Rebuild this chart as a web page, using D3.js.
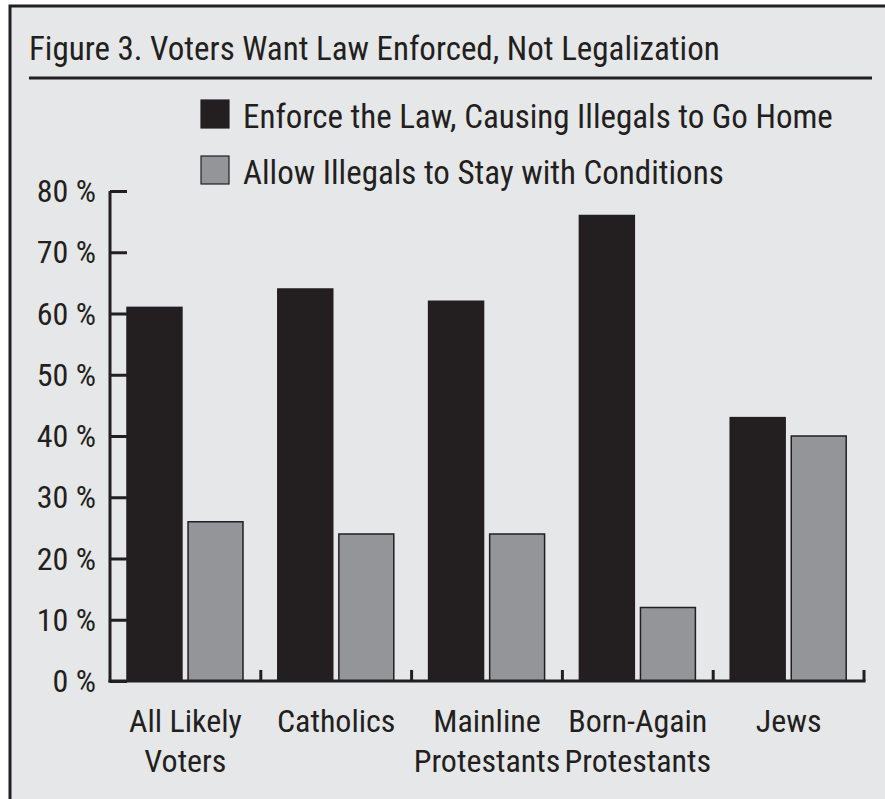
<!DOCTYPE html>
<html>
<head>
<meta charset="utf-8">
<script src="https://cdn.jsdelivr.net/npm/d3@7"></script>
<style>
  body { margin: 0; background: #fff; }
  text { font-family: "Liberation Sans Narrow", "Arial Narrow", "Roboto Condensed", sans-serif; fill: #231f20; }
</style>
</head>
<body>
<svg id="chart"></svg>
<script>
// Figure 3: enforce vs. allow to stay, by group
const groups = ["All Likely Voters", "Catholics", "Mainline Protestants", "Born-Again Protestants", "Jews"];
const groupLines = [["All Likely", "Voters"], ["Catholics"], ["Mainline", "Protestants"], ["Born-Again", "Protestants"], ["Jews"]];
const seriesNames = ["Enforce the Law, Causing Illegals to Go Home", "Allow Illegals to Stay with Conditions"];
const enforceValues = [61, 64, 62, 76, 43];
const allowValues = [26, 24, 24, 12, 40];
const yTicks = [0, 10, 20, 30, 40, 50, 60, 70, 80];

const W = 885, H = 799;
const svg = d3.select("#chart").attr("width", W).attr("height", H);

// panel with frame on top and left
svg.append("rect")
    .attr("x", 10).attr("y", 6)
    .attr("width", 900).attr("height", 900)
    .attr("fill", "#e6e7e8")
    .attr("stroke", "#231f20")
    .attr("stroke-width", 3);

svg.append("text")
    .attr("x", 29).attr("y", 60)
    .attr("font-size", 33)
    .text("Figure 3. Voters Want Law Enforced, Not Legalization");

svg.append("line")
    .attr("x1", 29).attr("x2", 872)
    .attr("y1", 78).attr("y2", 78)
    .attr("stroke", "#231f20").attr("stroke-width", 3);

const colors = ["#231f20", "#939598"];

// legend
const legend = svg.append("g").attr("transform", "translate(201,100)");
seriesNames.forEach((name, i) => {
    legend.append("rect")
        .attr("x", 0).attr("y", i * 56)
        .attr("width", 28).attr("height", 28)
        .attr("fill", colors[i])
        .attr("stroke", "#231f20").attr("stroke-width", 1.2);
    legend.append("text")
        .attr("x", 42).attr("y", i * 56 + 28)
        .attr("font-size", 33)
        .text(name);
});

// plot area
const x0 = d3.scaleBand().domain(groups).range([110, 864]).padding(0);
const x1 = d3.scaleBand().domain([0, 1]).range([17, 133]).paddingInner(0.1).paddingOuter(0);
const y = d3.scaleLinear().domain([0, 80]).range([681, 191]);

const data = groups.map((g, i) => ({ group: g, values: [enforceValues[i], allowValues[i]] }));

const gs = svg.selectAll(".grp")
    .data(data)
    .enter().append("g")
    .attr("class", "grp")
    .attr("transform", d => `translate(${x0(d.group)},0)`);

gs.selectAll("rect")
    .data(d => d.values.map((v, k) => ({ k, v })))
    .enter().append("rect")
    .attr("x", d => x1(d.k))
    .attr("y", d => y(d.v))
    .attr("width", x1.bandwidth())
    .attr("height", d => y(0) - y(d.v))
    .attr("fill", d => colors[d.k])
    .attr("stroke", "#231f20")
    .attr("stroke-width", 1.5);

// y axis
const yAxis = svg.append("g")
    .attr("transform", "translate(110,0)")
    .call(d3.axisRight(y).tickValues(yTicks).tickSize(17).tickSizeOuter(0).tickFormat(""));
yAxis.selectAll("line, path").attr("stroke", "#231f20").attr("stroke-width", 3);
yAxis.select(".domain").attr("d", `M0,${y(80)}V${y(0) + 1.5}`);

svg.append("g").selectAll("text")
    .data(yTicks)
    .enter().append("text")
    .attr("x", 96)
    .attr("y", d => y(d) + 11)
    .attr("text-anchor", "end")
    .attr("font-size", 32)
    .text(d => d + " %");

// x axis with ticks at group boundaries
const xAxis = svg.append("g");
xAxis.append("line")
    .attr("x1", 108.5).attr("x2", x0.range()[1] + 1.5)
    .attr("y1", y(0)).attr("y2", y(0))
    .attr("stroke", "#231f20").attr("stroke-width", 3);
xAxis.selectAll(".xt")
    .data(groups)
    .enter().append("line")
    .attr("x1", d => x0(d) + x0.bandwidth())
    .attr("x2", d => x0(d) + x0.bandwidth())
    .attr("y1", y(0)).attr("y2", y(0) - 11)
    .attr("stroke", "#231f20").attr("stroke-width", 3);

const labels = svg.selectAll(".xl")
    .data(groupLines)
    .enter().append("text")
    .attr("class", "xl")
    .attr("text-anchor", "middle")
    .attr("font-size", 32)
    .attr("x", (d, i) => x0(groups[i]) + x0.bandwidth() / 2)
    .attr("y", 732);
labels.selectAll("tspan")
    .data(d => d)
    .enter().append("tspan")
    .attr("x", function() { return this.parentNode.getAttribute("x"); })
    .attr("dy", (d, i) => i === 0 ? 0 : 40)
    .text(d => d);
</script>
</body>
</html>
